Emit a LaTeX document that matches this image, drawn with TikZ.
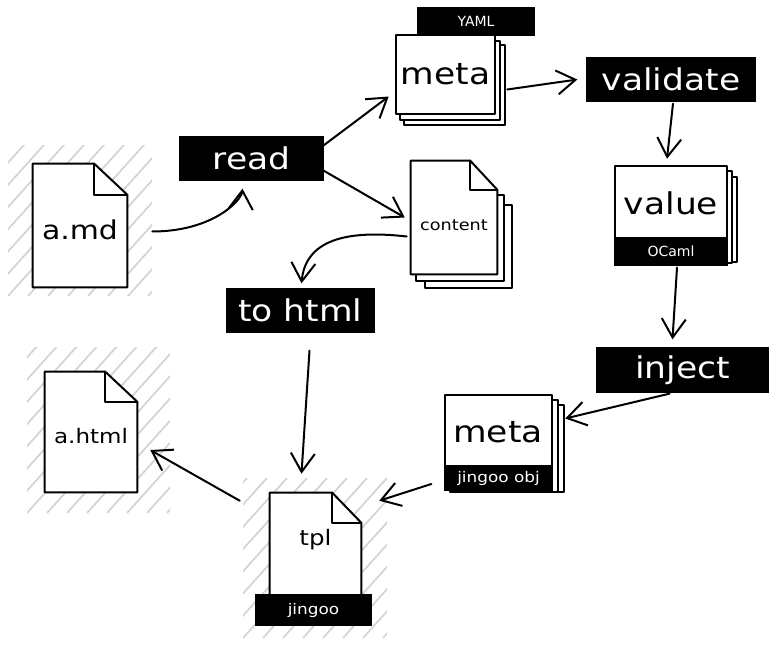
\documentclass[tikz,border=0pt]{standalone}
\usepackage{fontspec}
\setmainfont{DejaVu Sans}
\newfontfamily\hand[FakeStretch=1.15]{DejaVu Sans}
\usetikzlibrary{arrows.meta,calc,fit}
\definecolor{hatchc}{HTML}{CED4DA}
\tikzset{
  x=0.75pt, y=-0.75pt,
  ink/.style={line width=1.5pt, line join=round, line cap=round},
  arr/.style={ink, -{Straight Barb[length=14pt,width=18pt,line width=1.5pt]}},
  blk/.style={fill=black, draw=black, line width=1pt, inner sep=0pt},
  area/.style={inner sep=0pt},
  wt/.style={text=white, inner sep=0pt},
  big/.style={font=\hand\fontsize{22.5}{26}\selectfont},
  mid/.style={font=\hand\fontsize{15}{18}\selectfont},
  small/.style={font=\fontsize{10.5}{12}\selectfont},
  smallb/.style={font=\hand\fontsize{11}{13}\selectfont},
  sheet/.style={ink, fill=white},
  hatch/.style={hatchc, line width=1.3pt},
}
\newcommand{\hatchfill}[4]{%
  \begin{scope}
    \clip (#1,#2) rectangle (#3,#4);
    \foreach \k in {-200,-180,...,200}{
      \draw[hatch] (#1+\k,#4) -- (#1+\k+180,#4-200);
    }
  \end{scope}}
\begin{document}
\begin{tikzpicture}
\useasboundingbox (0,0) rectangle (776,646);

% ---------- hatched areas ----------
\hatchfill{8}{145}{152}{296}
\hatchfill{27}{347}{170}{513}
\hatchfill{243}{478}{387}{638}

% ---------- a.md ----------
\node[area, fit={(33,164) (127,287)}] (amd) {};
\draw[sheet] (amd.north west) -- ($(amd.north east)+(-33,0)$) -- ($(amd.north east)+(0,31)$) -- (amd.south east) -- (amd.south west) -- cycle;
\draw[ink] ($(amd.north east)+(-33,0)$) |- ($(amd.north east)+(0,31)$);
\node[font=\hand\fontsize{19.5}{23}\selectfont] at ($(amd.center)+(0,4)$) {a.md};

% ---------- read ----------
\node[blk, fit={(180,137) (323,180)}, label={[wt,big]center:read}] (read) {};

% ---------- meta (YAML) ----------
\node[blk, fit={(418,8) (534,35)}, label={[wt,small]center:YAML}] (yaml) {};
\draw[sheet] (404,45) rectangle (505,125);
\draw[sheet] (400,41) rectangle (500,120);
\node[area, fit={(396,35) (495,114)}] (meta) {};
\draw[sheet] (meta.north west) rectangle (meta.south east);
\node[big] at (meta) {meta};

% ---------- validate ----------
\node[blk, fit={(587,58) (755,101)}, label={[wt,big]center:validate}] (validate) {};

% ---------- content ----------
\draw[sheet] (425,205) rectangle (512,288);
\draw[sheet] (416,195) rectangle (504,281);
\node[area, fit={(411,161) (497,274)}] (content) {};
\draw[sheet] (content.north west) -- ($(content.north east)+(-27,0)$) -- ($(content.north east)+(0,29)$) -- (content.south east) -- (content.south west) -- cycle;
\draw[ink] ($(content.north east)+(-27,0)$) |- ($(content.north east)+(0,29)$);
\node[font=\hand\fontsize{11.5}{14}\selectfont] at ($(content.center)+(0,8)$) {content};

% ---------- value / OCaml ----------
\draw[sheet] (625,177) rectangle (737,262);
\draw[sheet] (620,171) rectangle (732,263);
\node[area, fit={(615,166) (727,265)}] (value) {};
\draw[sheet] (value.north west) rectangle (value.south east);
\node[blk, fit={(615,238) (727,265)}, label={[wt,small]center:OCaml}] (ocaml) {};
\node[big] at (671,203) {value};

% ---------- to html ----------
\node[blk, fit={(227,289) (374,332)}, label={[wt,big]center:to html}] (tohtml) {};

% ---------- inject ----------
\node[blk, fit={(597,348) (768,392)}, label={[wt,big]center:inject}] (inject) {};

% ---------- meta (jingoo obj) ----------
\draw[sheet] (455,405) rectangle (564,492);
\draw[sheet] (450,400) rectangle (558,492);
\node[area, fit={(445,395) (552,490)}] (meta2) {};
\draw[sheet] (meta2.north west) rectangle (meta2.south east);
\node[blk, fit={(445,466) (552,490)}, label={[wt,smallb]center:jingoo obj}] (jobj) {};
\node[big] at (498,432) {meta};

% ---------- a.html ----------
\node[area, fit={(45,372) (137,492)}] (ahtml) {};
\draw[sheet] (ahtml.north west) -- ($(ahtml.north east)+(-32,0)$) -- ($(ahtml.north east)+(0,30)$) -- (ahtml.south east) -- (ahtml.south west) -- cycle;
\draw[ink] ($(ahtml.north east)+(-32,0)$) |- ($(ahtml.north east)+(0,30)$);
\node[mid] at ($(ahtml.center)+(0,4)$) {a.html};

% ---------- tpl / jingoo ----------
\node[area, fit={(270,493) (361,595)}] (tpl) {};
\draw[sheet] (tpl.north west) -- ($(tpl.north east)+(-29,0)$) -- ($(tpl.north east)+(0,30)$) -- (tpl.south east) -- (tpl.south west) -- cycle;
\draw[ink] ($(tpl.north east)+(-29,0)$) |- ($(tpl.north east)+(0,30)$);
\node[font=\hand\fontsize{16}{19}\selectfont] at ($(tpl.center)+(0,-4)$) {tpl};
\node[blk, fit={(256,595) (371,625)}, label={[wt,smallb]center:jingoo}] (jingoo) {};

% ---------- connectors ----------
\draw[arr] ($(amd.east)+(25,6)$) .. controls ($(amd.east)+(85,6)$) and ($(read.south)+(-10,20)$) .. ($(read.south)+(-9,8)$);
\draw[arr] ($(read.north east)+(0,9)$) -- ($(meta.west)+(-7,22)$);
\draw[arr] ($(read.south east)+(0,-10)$) -- ($(content.west)+(-6,0)$);
\draw[arr] ($(meta.east)+(12,15)$) -- ($(validate.west)+(-9,0)$);
\draw[arr] ($(validate.south)+(2,2)$) -- ($(value.north)+(-4,-7)$);
\draw[arr] ($(ocaml.south)+(6,2)$) -- ($(inject.north)+(-10,-8)$);
\draw[arr] ($(inject.south)+(-13,1)$) -- ($(meta2.east)+(13,-24)$);
\draw[arr] ($(content.west)+(-4,19)$) .. controls ($(content.west)+(-65,12)$) and ($(tohtml.north)+(5,-48)$) .. ($(tohtml.north)+(1,-5)$);
\draw[arr] ($(tohtml.south)+(9,18)$) -- ($(tpl.north)+(-14,-19)$);
\draw[arr] ($(jobj.west)+(-13,6)$) -- ($(tpl.north east)+(18,8)$);
\draw[arr] ($(tpl.north west)+(-30,8)$) -- ($(ahtml.east)+(13,18)$);
\end{tikzpicture}
\end{document}
